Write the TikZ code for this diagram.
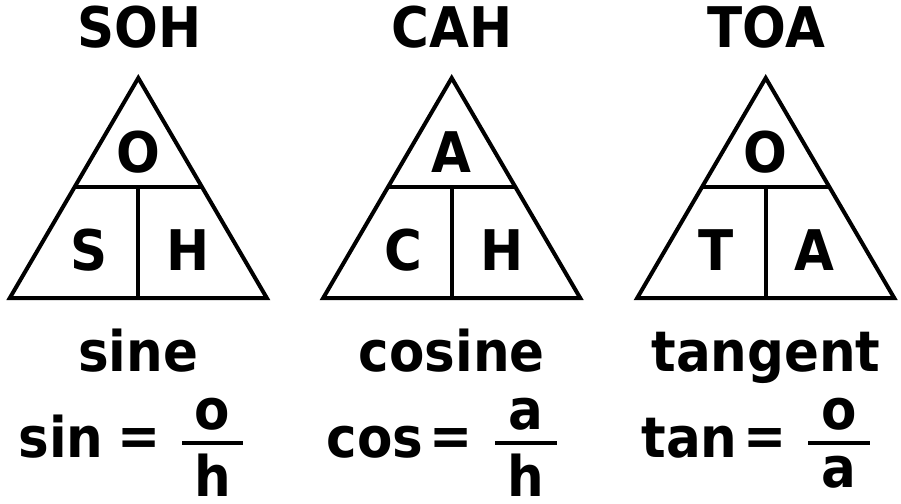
\documentclass[tikz,border=0pt]{standalone}
\usepackage{fontspec}
\setmainfont{DejaVu Sans}[FakeStretch=0.92]
\usepackage{tikz}

\tikzset{
  big/.style={font=\fontsize{56}{60}\selectfont\bfseries, inner sep=0pt, anchor=base},
  tri/.style={line width=4pt, line join=miter},
  bar/.style={line width=4pt},
}

\begin{document}
\begin{tikzpicture}[x=1pt, y=-1pt]
  \useasboundingbox (0,0) rectangle (901,503);
  % titles
  \node[big] (soh) at (139.5,48) {SOH};
  \node[big] (cah) at (452,48) {CAH};
  \node[big] (toa) at (766.5,48) {TOA};
  % triangles
  \draw[tri] (138.3,78) -- (9.8,298) -- (266.8,298) -- cycle;
  \draw[tri] (74.6,187) -- (202,187) (138.3,187) -- (138.3,298);
  \draw[tri] (451.7,78) -- (323.2,298) -- (580.2,298) -- cycle;
  \draw[tri] (388,187) -- (515.4,187) (451.7,187) -- (451.7,298);
  \draw[tri] (765.7,78) -- (637.2,298) -- (894.2,298) -- cycle;
  \draw[tri] (702,187) -- (829.4,187) (765.7,187) -- (765.7,298);
  % letters in the triangles
  \node[big] (sohO) at (138.3,172) {O};
  \node[big] (sohS) at (89.3,270) {S};
  \node[big] (sohH) at (188.3,270) {H};
  \node[big] (cahA) at (451.7,172) {A};
  \node[big] (cahC) at (403.2,270) {C};
  \node[big] (cahH) at (502.2,270) {H};
  \node[big] (toaO) at (765.7,172) {O};
  \node[big] (toaT) at (716.2,270) {T};
  \node[big] (toaA) at (814.2,270) {A};
  % names
  \node[big] (sine) at (138.3,371) {sine};
  \node[big] (cosine) at (451.7,371) {cosine};
  \node[big] (tangent) at (766,371) {tangent};
  % formulas
  \node[big] (sinf) at (61,457) {sin};
  \node[big, anchor=center] (sinEq) at (139,442) {=};
  \coordinate (sinBarL) at (182,443);
  \coordinate (sinBarR) at (243,443);
  \draw[bar] (sinBarL) -- (sinBarR);
  \node[big] (sinNum) at (212.5,429) {o};
  \node[big] (sinDen) at (212.5,496) {h};

  \node[big] (cosf) at (375,457) {cos};
  \node[big, anchor=center] (cosEq) at (451,442) {=};
  \coordinate (cosBarL) at (495,443);
  \coordinate (cosBarR) at (557,443);
  \draw[bar] (cosBarL) -- (cosBarR);
  \node[big] (cosNum) at (526,429) {a};
  \node[big] (cosDen) at (526,496) {h};

  \node[big] (tanf) at (689.5,457) {tan};
  \node[big, anchor=center] (tanEq) at (765,442) {=};
  \coordinate (tanBarL) at (808,443);
  \coordinate (tanBarR) at (870,443);
  \draw[bar] (tanBarL) -- (tanBarR);
  \node[big] (tanNum) at (839,429) {o};
  \node[big] (tanDen) at (839,487) {a};
\end{tikzpicture}
\end{document}
